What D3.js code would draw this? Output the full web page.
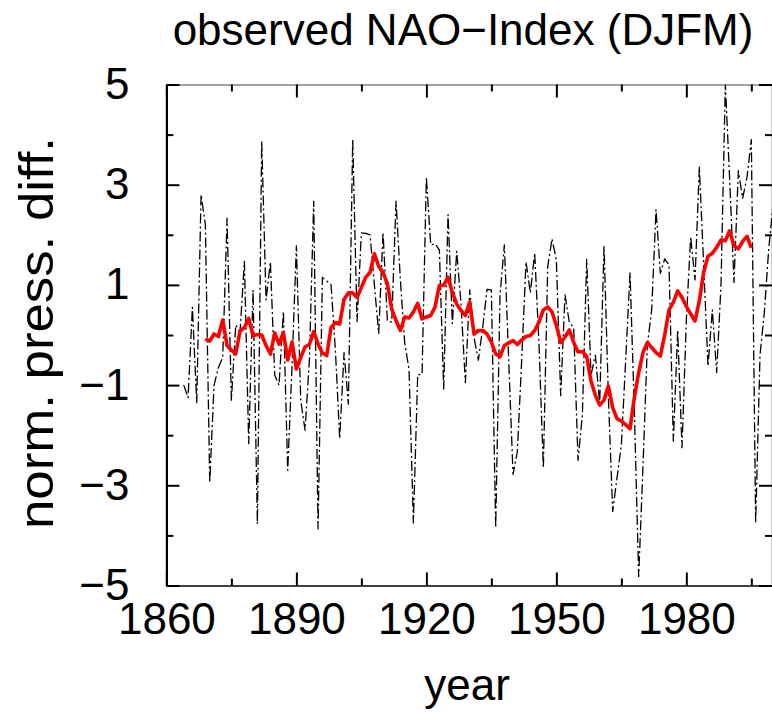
<!DOCTYPE html>
<html>
<head>
<meta charset="utf-8">
<script src="https://cdn.jsdelivr.net/npm/d3@7"></script>
<style>
  body { margin: 0; background: #fff; }
  svg { display: block; }
  text { font-family: "Liberation Sans", Arial, Helvetica, sans-serif; fill: #000; }
</style>
</head>
<body>
<svg id="chart" width="772" height="713"></svg>
<script>
// Winter (DJFM) NAO index, normalised pressure difference, one value per year from 1864
const firstYear = 1864;
const naoIndex = [
  -1.00, -1.25, 0.55, -1.35, 2.80, 2.20, -2.95, -1.00, -0.65, -0.45,   // 1864-1873
   2.33, -1.30, 0.20, 0.07, 1.47, -2.17, 0.90, -3.77, 3.87, 0.70,      // 1874-1883
   1.46, -0.80, -1.00, 0.47, -2.70, -0.60, 1.78, -1.30, -1.90, -0.50,  // 1884-1893
   2.67, -3.87, 1.15, 1.08, 1.00, -0.30, -2.07, -0.35, -1.38, 3.90,    // 1894-1903
   0.27, 2.04, 2.03, 2.00, 1.00, 0.03, 2.05, 0.28, 0.26, 2.67,         // 1904-1913
   1.10, -0.16, -0.69, -3.75, -0.79, -0.79, 3.15, 1.80, 1.82, 1.70,    // 1914-1923
  -1.08, 2.40, 0.23, 1.67, 0.62, -0.95, 0.90, -0.05, -0.50, 0.15,      // 1924-1933
   0.91, 0.90, -3.85, 0.80, 1.80, -0.50, -2.78, -2.33, -0.50, 1.46,    // 1934-1943
   0.84, 1.64, -0.20, -2.66, 1.36, 1.92, 1.50, -1.21, 0.80, 0.25,      // 1944-1953
   0.15, -2.50, -1.60, 1.51, -0.80, -0.40, -1.37, 1.77, -1.20, -3.52,  // 1954-1963
  -2.85, -2.20, -0.50, 1.24, -1.50, -4.82, -2.60, -0.20, 0.50, 2.50,   // 1964-1973
   1.23, 1.52, 1.40, -2.12, 0.10, -2.25, 0.30, 1.96, 1.10, 3.35,       // 1974-1983
   1.40, -0.62, 0.50, -0.75, 1.00, 5.00, 3.10, 1.05, 3.28, 2.73,       // 1984-1993
   3.15, 3.90, -3.75, -0.40, 0.45, 1.70, 2.60                          // 1994-2000
];

// Running mean of the index, 1869-1995
const smoothStart = 1869;
const naoSmooth = [
  -0.08, -0.12, 0.02, -0.03, 0.30, -0.21, -0.30, -0.38, 0.08, 0.15,    // 1869-1878
   0.33, -0.01, 0.01, 0.00, -0.21, -0.38, 0.04, -0.18, 0.05, -0.50,    // 1879-1888
  -0.14, -0.68, -0.45, -0.24, -0.19, 0.07, -0.18, -0.36, -0.41, 0.15,  // 1889-1898
   0.25, 0.22, 0.71, 0.84, 0.84, 0.75, 0.95, 1.15, 1.25, 1.62,         // 1899-1908
   1.37, 1.25, 1.02, 0.52, 0.29, 0.09, 0.36, 0.34, 0.46, 0.63,         // 1909-1918
   0.32, 0.36, 0.39, 0.56, 0.99, 0.99, 1.15, 0.85, 0.62, 0.49,         // 1919-1928
   0.39, 0.66, 0.02, 0.09, 0.09, 0.02, -0.14, -0.38, -0.43, -0.21,     // 1929-1938
  -0.16, -0.11, -0.19, -0.10, -0.03, -0.01, 0.09, 0.26, 0.50, 0.56,    // 1939-1948
   0.46, 0.19, -0.15, -0.04, 0.10, -0.15, -0.34, -0.33, -0.43, -0.92,  // 1949-1958
  -1.20, -1.40, -1.30, -1.02, -1.45, -1.67, -1.72, -1.79, -1.87, -1.25,// 1959-1968
  -0.75, -0.35, -0.15, -0.25, -0.35, -0.42, 0.00, 0.50, 0.65, 0.88,    // 1969-1978
   0.75, 0.57, 0.42, 0.28, 0.68, 1.25, 1.57, 1.63, 1.75, 1.90,         // 1979-1988
   1.88, 2.08, 1.78, 1.72, 1.87, 1.97, 1.74                            // 1989-1995
];

const yearDomain = [1860, 2000];
const valueDomain = [-5, 5];
const xMajorTicks = [1860, 1890, 1920, 1950, 1980];
const xMinorTicks = [1875, 1905, 1935, 1965, 1995];
const yMajorTicks = [-5, -3, -1, 1, 3, 5];
const yMinorTicks = [-4, -2, 0, 2, 4];

const titleText = "observed NAO\u2212Index (DJFM)";
const xLabelText = "year";
const yLabelText = "norm. press. diff.";

// ---- layout ----
const svg = d3.select("#chart");
const plot = { left: 166.4, right: 773, top: 84.5, bottom: 585.5 };
const fontSize = 44;

const x = d3.scaleLinear().domain(yearDomain).range([plot.left, plot.right]);
const y = d3.scaleLinear().domain(valueDomain).range([plot.bottom, plot.top]);

const annual = naoIndex.map((v, i) => ({ year: firstYear + i, value: v }));
const smooth = naoSmooth.map((v, i) => ({ year: smoothStart + i, value: v }));

svg.append("defs").append("clipPath").attr("id", "plotClip")
  .append("rect")
  .attr("x", plot.left).attr("y", plot.top)
  .attr("width", plot.right - plot.left).attr("height", plot.bottom - plot.top);

const line = d3.line().x(d => x(d.year)).y(d => y(d.value));

const lines = svg.append("g").attr("clip-path", "url(#plotClip)");

// annual values: thin dash-dot line
lines.append("path")
  .datum(annual)
  .attr("d", line)
  .attr("fill", "none")
  .attr("stroke", "#000")
  .attr("stroke-width", 1.3)
  .attr("stroke-dasharray", "10,3,2,3")
  .attr("stroke-linejoin", "round");

// running mean: bold red line
lines.append("path")
  .datum(smooth)
  .attr("d", line)
  .attr("fill", "none")
  .attr("stroke", "#ff0000")
  .attr("stroke-width", 3.6)
  .attr("stroke-linejoin", "round");

// ---- axes: ticks on all four sides, pointing into the plot ----
const majorLen = 13, minorLen = 7;

function styleAxis(g, width) {
  g.selectAll(".tick line").attr("stroke", "#000").attr("stroke-width", 2);
  g.select(".domain").attr("stroke", "#000").attr("stroke-width", width);
  g.selectAll("text").attr("font-size", fontSize).attr("font-family", "Liberation Sans, Arial, sans-serif");
}

const bottomMajor = svg.append("g")
  .attr("transform", `translate(0,${plot.bottom})`)
  .call(d3.axisBottom(x).tickValues(xMajorTicks).tickSize(-majorLen).tickSizeOuter(0)
        .tickPadding(17).tickFormat(d3.format("d")));
styleAxis(bottomMajor, 1.4);

const bottomMinor = svg.append("g")
  .attr("transform", `translate(0,${plot.bottom})`)
  .call(d3.axisBottom(x).tickValues(xMinorTicks).tickSize(-minorLen).tickSizeOuter(0).tickFormat(""));
styleAxis(bottomMinor, 0);

const topMajor = svg.append("g")
  .attr("transform", `translate(0,${plot.top})`)
  .call(d3.axisTop(x).tickValues(xMajorTicks).tickSize(-majorLen).tickSizeOuter(0).tickFormat(""));
styleAxis(topMajor, 1);
topMajor.select(".domain").attr("stroke", "#444");

const topMinor = svg.append("g")
  .attr("transform", `translate(0,${plot.top})`)
  .call(d3.axisTop(x).tickValues(xMinorTicks).tickSize(-minorLen).tickSizeOuter(0).tickFormat(""));
styleAxis(topMinor, 0);

const minusFormat = d => (d < 0 ? "\u2212" : "") + Math.abs(d);

const leftMajor = svg.append("g")
  .attr("transform", `translate(${plot.left},0)`)
  .call(d3.axisLeft(y).tickValues(yMajorTicks).tickSize(-majorLen).tickSizeOuter(0)
        .tickPadding(37).tickFormat(minusFormat));
styleAxis(leftMajor, 2.2);

const leftMinor = svg.append("g")
  .attr("transform", `translate(${plot.left},0)`)
  .call(d3.axisLeft(y).tickValues(yMinorTicks).tickSize(-minorLen).tickSizeOuter(0).tickFormat(""));
styleAxis(leftMinor, 0);

const rightMajor = svg.append("g")
  .attr("transform", `translate(${plot.right - 1},0)`)
  .call(d3.axisRight(y).tickValues(yMajorTicks).tickSize(-majorLen).tickSizeOuter(0).tickFormat(""));
styleAxis(rightMajor, 1.4);

const rightMinor = svg.append("g")
  .attr("transform", `translate(${plot.right - 1},0)`)
  .call(d3.axisRight(y).tickValues(yMinorTicks).tickSize(-minorLen).tickSizeOuter(0).tickFormat(""));
styleAxis(rightMinor, 0);

// ---- titles ----
svg.append("text")
  .attr("x", 463).attr("y", 45)
  .attr("text-anchor", "middle")
  .attr("font-size", fontSize)
  .text(titleText);

svg.append("text")
  .attr("x", 467).attr("y", 700)
  .attr("text-anchor", "middle")
  .attr("font-size", fontSize)
  .text(xLabelText);

svg.append("text")
  .attr("transform", "translate(53,333) rotate(-90)")
  .attr("text-anchor", "middle")
  .attr("font-size", 48)
  .attr("textLength", 392)
  .attr("lengthAdjust", "spacingAndGlyphs")
  .text(yLabelText);
</script>
</body>
</html>
